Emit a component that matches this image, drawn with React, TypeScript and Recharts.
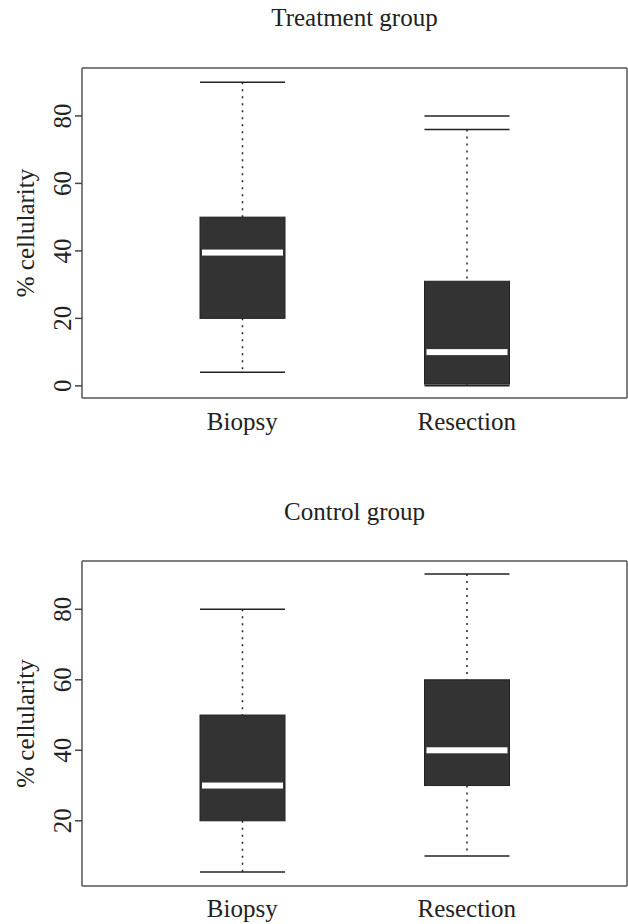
import React from 'react';
import { ComposedChart, Bar, XAxis, YAxis, CartesianGrid } from 'recharts';

const groups = ['Biopsy', 'Resection'];

// treatment group
const treatMin = [4, 0];
const treatQ1 = [20, 0.5];
const treatMedian = [39.5, 10];
const treatQ3 = [50, 31];
const treatMax = [90, 76];
const treatOutliers = [[], [80]];
const treatTicks = [0, 20, 40, 60, 80];

// control group
const ctrlMin = [5.5, 10];
const ctrlQ1 = [20, 30];
const ctrlMedian = [30, 40];
const ctrlQ3 = [50, 60];
const ctrlMax = [80, 90];
const ctrlOutliers = [[], []];
const ctrlTicks = [20, 40, 60, 80];

const FONT = '"Liberation Serif", "Times New Roman", serif';
const INK = '#222';

function rows(min: number[], q1: number[], med: number[], q3: number[], max: number[], out: number[][]) {
  return groups.map((name, i) => ({
    name,
    min: min[i],
    q1: q1[i],
    median: med[i],
    q3: q3[i],
    max: max[i],
    outliers: out[i],
  }));
}

const treatData = rows(treatMin, treatQ1, treatMedian, treatQ3, treatMax, treatOutliers);
const ctrlData = rows(ctrlMin, ctrlQ1, ctrlMedian, ctrlQ3, ctrlMax, ctrlOutliers);

const BoxShape = (props: any) => {
  const { x, y, width, height, payload } = props;
  const top = Math.min(y, y + height);
  const bottom = Math.max(y, y + height);
  const { min, max } = payload;
  // same linear scale as the bar (min..max)
  const py = (v: number) => bottom - ((v - min) / (max - min)) * (bottom - top);
  const cx = x + width / 2;
  const yQ1 = py(payload.q1);
  const yQ3 = py(payload.q3);
  const yMed = py(payload.median);
  return (
    <g>
      <line x1={cx} x2={cx} y1={py(max)} y2={yQ3} stroke={INK} strokeWidth={1.5} strokeDasharray="2 5" />
      <line x1={cx} x2={cx} y1={yQ1} y2={py(min)} stroke={INK} strokeWidth={1.5} strokeDasharray="2 5" />
      <line x1={x} x2={x + width} y1={py(max)} y2={py(max)} stroke={INK} strokeWidth={1.5} />
      <line x1={x} x2={x + width} y1={py(min)} y2={py(min)} stroke={INK} strokeWidth={1.5} />
      <rect x={x} y={yQ3} width={width} height={yQ1 - yQ3} fill="#333" stroke={INK} strokeWidth={1} />
      <rect x={x + 2} y={yMed - 3} width={width - 4} height={6} fill="#fff" />
      {payload.outliers.map((o: number) => (
        <line key={o} x1={x} x2={x + width} y1={py(o)} y2={py(o)} stroke={INK} strokeWidth={1.5} />
      ))}
    </g>
  );
};

const YTick = (props: any) => {
  const { x, y, payload } = props;
  return (
    <text
      x={x}
      y={y}
      transform={`rotate(-90, ${x}, ${y})`}
      textAnchor="middle"
      fontFamily={FONT}
      fontSize={25}
      fill={INK}
    >
      {payload.value}
    </text>
  );
};

const YLabel = (props: any) => {
  const vb = props.viewBox || { x: 0, y: 0, height: 0 };
  const lx = vb.x + 34;
  const ly = vb.y + vb.height / 2;
  return (
    <text x={lx} y={ly} transform={`rotate(-90, ${lx}, ${ly})`} textAnchor="middle" fontFamily={FONT} fontSize={25} fill={INK}>
      % cellularity
    </text>
  );
};

const frameH = ({ offset }: any) => [offset.top, offset.top + offset.height];
const frameV = ({ offset }: any) => [offset.left, offset.left + offset.width];

function BoxPanel({ data, domain, ticks, height, marginTop, axisHeight, tickMargin }: any) {
  return (
    <ComposedChart
      width={628}
      height={height}
      data={data}
      margin={{ top: marginTop, right: 1, bottom: 0, left: 0 }}
    >
      <CartesianGrid
        stroke="#555"
        strokeWidth={1.5}
        horizontalCoordinatesGenerator={frameH}
        verticalCoordinatesGenerator={frameV}
      />
      <XAxis
        dataKey="name"
        height={axisHeight}
        padding={{ left: 48, right: 48 }}
        axisLine={false}
        tickLine={false}
        tickMargin={tickMargin}
        tick={{ fontFamily: FONT, fontSize: 25, fill: INK }}
      />
      <YAxis
        type="number"
        domain={domain}
        ticks={ticks}
        width={82}
        axisLine={false}
        tickSize={7}
        tickMargin={4}
        tickLine={{ stroke: '#444', strokeWidth: 1.5 }}
        tick={<YTick />}
        label={<YLabel />}
      />
      <Bar
        dataKey={(d: any) => [d.min, d.max]}
        barSize={85}
        shape={<BoxShape />}
        isAnimationActive={false}
      />
    </ComposedChart>
  );
}

const titleStyle: React.CSSProperties = {
  position: 'absolute',
  width: 545,
  left: 82,
  textAlign: 'center',
  fontFamily: FONT,
  fontSize: 25,
  lineHeight: '25px',
  color: INK,
};

export default function App() {
  return (
    <div style={{ position: 'absolute', left: 0, top: 0, width: 628, height: 924, background: '#fff' }}>
      <div style={{ ...titleStyle, top: 5 }}>Treatment group</div>
      <div style={{ position: 'absolute', left: 0, top: 0 }}>
        <BoxPanel data={treatData} domain={[-3.6, 94.2]} ticks={treatTicks} height={450} marginTop={68} axisHeight={52} tickMargin={8} />
      </div>
      <div style={{ ...titleStyle, top: 499 }}>Control group</div>
      <div style={{ position: 'absolute', left: 0, top: 490 }}>
        <BoxPanel data={ctrlData} domain={[1.5, 93.7]} ticks={ctrlTicks} height={434} marginTop={71} axisHeight={38} tickMargin={7} />
      </div>
    </div>
  );
}
